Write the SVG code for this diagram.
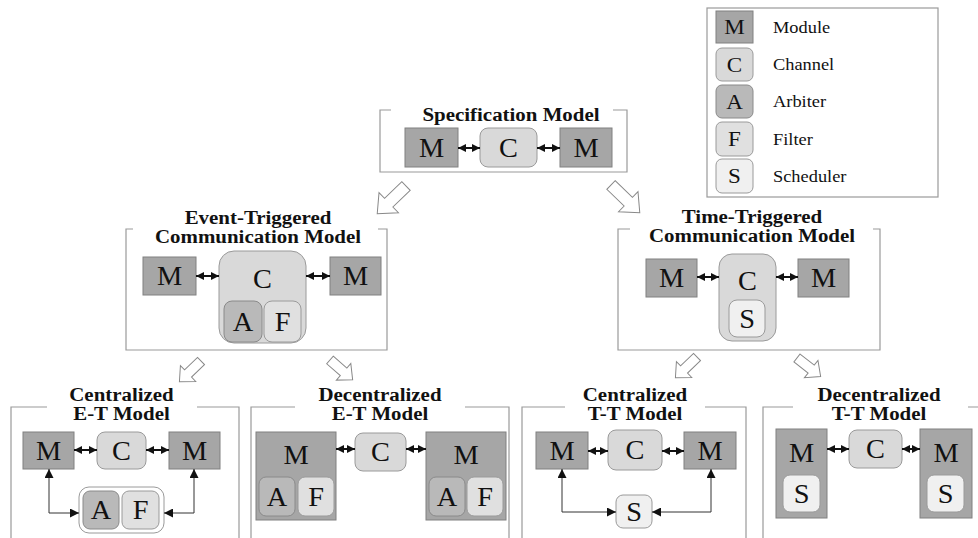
<svg xmlns="http://www.w3.org/2000/svg" width="978" height="538" viewBox="0 0 978 538">
<style>
text{font-family:"Liberation Serif","Times New Roman",serif;fill:#111}
.t{font-size:19px;font-weight:bold;text-anchor:middle}
.L{font-size:27px;text-anchor:middle}
.lg{font-size:22px;text-anchor:middle}
.lb{font-size:17.5px}
.frame{fill:none;stroke:#9a9a9a;stroke-width:1.2}
.m{fill:#a6a6a6;stroke:#808080;stroke-width:1}
.c{fill:#d9d9d9;stroke:#9a9a9a;stroke-width:1}
.a{fill:#b9b9b9;stroke:#8a8a8a;stroke-width:1}
.f{fill:#e0e0e0;stroke:#9a9a9a;stroke-width:1}
.s{fill:#f0f0f0;stroke:#9a9a9a;stroke-width:1}
.w{fill:#fff;stroke:#9a9a9a;stroke-width:1}
.dbl{stroke:#111;stroke-width:2;fill:none;marker-start:url(#ah);marker-end:url(#ah)}
.elb{stroke:#333;stroke-width:1;fill:none;marker-start:url(#ah2);marker-end:url(#ah2)}
.ha{fill:#fff;stroke:#888;stroke-width:1}
</style>
<defs>
<marker id="ah" viewBox="0 0 10 10" refX="10" refY="5" markerWidth="8" markerHeight="9" markerUnits="userSpaceOnUse" orient="auto-start-reverse"><path d="M0,0 L10,5 L0,10 z" fill="#111"/></marker>
<marker id="ah2" viewBox="0 0 10 10" refX="10" refY="5" markerWidth="9" markerHeight="9" markerUnits="userSpaceOnUse" orient="auto-start-reverse"><path d="M0,0 L10,5 L0,10 z" fill="#111"/></marker>
<path id="bigArrow" d="M0,-6 L24,-6 L24,-14 L40,0 L24,14 L24,6 L0,6 Z"/>
<path id="smallArrow" d="M0,-5 L18,-5 L18,-11 L30,0 L18,11 L18,5 L0,5 Z"/>
</defs>
<rect width="978" height="538" fill="#fff"/>

<g id="legend">
<rect x="707" y="8" width="231" height="189" fill="#fff" stroke="#9a9a9a" stroke-width="1.2"/>
<rect class="m" x="716" y="11" width="37" height="32"/>
<rect class="c" x="716" y="48" width="37" height="33" rx="6"/>
<rect class="a" x="716" y="85" width="37" height="33" rx="6"/>
<rect class="f" x="716" y="122" width="37" height="34" rx="6"/>
<rect class="s" x="716" y="159" width="37" height="34" rx="6"/>
<text class="lg" transform="translate(734.5 34.3) scale(1.05 1)">M</text>
<text class="lg" transform="translate(734.5 71.8) scale(1.05 1)">C</text>
<text class="lg" transform="translate(734.5 108.8) scale(1.05 1)">A</text>
<text class="lg" transform="translate(734.5 146.3) scale(1.05 1)">F</text>
<text class="lg" transform="translate(734.5 183.3) scale(1.05 1)">S</text>
<text class="lb" transform="translate(773 32.8) scale(1.05 1)">Module</text>
<text class="lb" transform="translate(773 70.3) scale(1.05 1)">Channel</text>
<text class="lb" transform="translate(773 107.3) scale(1.05 1)">Arbiter</text>
<text class="lb" transform="translate(773 144.8) scale(1.05 1)">Filter</text>
<text class="lb" transform="translate(773 181.8) scale(1.05 1)">Scheduler</text>
</g>

<g id="spec-model">
<path class="frame" d="M391,110 H380 V172 H627 V110 H613"/>
<text class="t" transform="translate(511 121) scale(1.1 1)">Specification Model</text>
<rect class="m" x="405" y="128" width="53" height="39"/>
<rect class="c" x="480" y="128" width="57" height="39" rx="8"/>
<rect class="m" x="560" y="128" width="52" height="39"/>
<text class="L" transform="translate(431.5 156.5) scale(1.05 1)">M</text>
<text class="L" transform="translate(508.5 156.5) scale(1.05 1)">C</text>
<text class="L" transform="translate(586 156.5) scale(1.05 1)">M</text>
</g>

<g id="et-model">
<path class="frame" d="M133,229 H126 V350 H387 V229 H378"/>
<text class="t" transform="translate(258 224) scale(1.1 1)">Event-Triggered</text>
<text class="t" transform="translate(258 243) scale(1.1 1)">Communication Model</text>
<rect class="m" x="143" y="257" width="53" height="38"/>
<rect class="c" x="219" y="251" width="87" height="92" rx="15"/>
<rect class="a" x="224" y="301" width="38" height="41" rx="8"/>
<rect class="f" x="264" y="301" width="37" height="41" rx="8"/>
<rect class="m" x="330" y="257" width="51" height="38"/>
<text class="L" transform="translate(169.5 285) scale(1.05 1)">M</text>
<text class="L" transform="translate(262.5 288) scale(1.05 1)">C</text>
<text class="L" transform="translate(243 330.5) scale(1.05 1)">A</text>
<text class="L" transform="translate(282.5 330.5) scale(1.05 1)">F</text>
<text class="L" transform="translate(355.5 285) scale(1.05 1)">M</text>
</g>

<g id="tt-model">
<path class="frame" d="M630,229 H618 V350 H880 V229 H873"/>
<text class="t" transform="translate(752 223) scale(1.1 1)">Time-Triggered</text>
<text class="t" transform="translate(752 242) scale(1.1 1)">Communication Model</text>
<rect class="m" x="646" y="259" width="51" height="38"/>
<rect class="c" x="719" y="254" width="57" height="87" rx="13"/>
<rect class="s" x="729" y="300" width="36" height="37" rx="8"/>
<rect class="m" x="798" y="259" width="51" height="38"/>
<text class="L" transform="translate(671.5 287) scale(1.05 1)">M</text>
<text class="L" transform="translate(747.5 290) scale(1.05 1)">C</text>
<text class="L" transform="translate(747 327.5) scale(1.05 1)">S</text>
<text class="L" transform="translate(823.5 287) scale(1.05 1)">M</text>
</g>

<g id="centralized-et">
<path class="frame" d="M47,407 H11 V540 M197,407 H239 V540"/>
<text class="t" transform="translate(121.5 401) scale(1.1 1)">Centralized</text>
<text class="t" transform="translate(121.5 420) scale(1.1 1)">E-T Model</text>
<rect class="m" x="23" y="432" width="51" height="37"/>
<rect class="c" x="97" y="432" width="49" height="37" rx="8"/>
<rect class="m" x="169" y="432" width="51" height="37"/>
<rect class="w" x="79" y="487" width="85" height="46" rx="10"/>
<rect class="a" x="83" y="491" width="36" height="38" rx="7"/>
<rect class="f" x="122" y="491" width="37" height="38" rx="7"/>
<text class="L" transform="translate(48.5 459.5) scale(1.05 1)">M</text>
<text class="L" transform="translate(121.5 459.5) scale(1.05 1)">C</text>
<text class="L" transform="translate(194.5 459.5) scale(1.05 1)">M</text>
<text class="L" transform="translate(101 519) scale(1.05 1)">A</text>
<text class="L" transform="translate(140.5 519) scale(1.05 1)">F</text>
</g>

<g id="decentralized-et">
<path class="frame" d="M295,407 H251 V540 M465,407 H509 V540"/>
<text class="t" transform="translate(380 401) scale(1.1 1)">Decentralized</text>
<text class="t" transform="translate(380 420) scale(1.1 1)">E-T Model</text>
<rect class="m" x="256" y="432" width="80" height="88"/>
<rect class="a" x="259" y="477" width="36" height="39" rx="7"/>
<rect class="f" x="298" y="477" width="36" height="39" rx="7"/>
<rect class="c" x="355" y="433" width="51" height="38" rx="8"/>
<rect class="m" x="426" y="432" width="80" height="88"/>
<rect class="a" x="429" y="477" width="36" height="39" rx="7"/>
<rect class="f" x="467" y="477" width="36" height="39" rx="7"/>
<text class="L" transform="translate(296 464) scale(1.05 1)">M</text>
<text class="L" transform="translate(277 505.5) scale(1.05 1)">A</text>
<text class="L" transform="translate(316 505.5) scale(1.05 1)">F</text>
<text class="L" transform="translate(380.5 461) scale(1.05 1)">C</text>
<text class="L" transform="translate(466 464) scale(1.05 1)">M</text>
<text class="L" transform="translate(447 505.5) scale(1.05 1)">A</text>
<text class="L" transform="translate(485 505.5) scale(1.05 1)">F</text>
</g>

<g id="centralized-tt">
<path class="frame" d="M565,407 H522 V540 M705,407 H746 V540"/>
<text class="t" transform="translate(635 401) scale(1.1 1)">Centralized</text>
<text class="t" transform="translate(635 420) scale(1.1 1)">T-T Model</text>
<rect class="m" x="536" y="432" width="52" height="37"/>
<rect class="c" x="608" y="430" width="54" height="40" rx="8"/>
<rect class="m" x="684" y="432" width="52" height="37"/>
<rect class="s" x="616" y="495" width="36" height="33" rx="7"/>
<text class="L" transform="translate(562 459.5) scale(1.05 1)">M</text>
<text class="L" transform="translate(635 459) scale(1.05 1)">C</text>
<text class="L" transform="translate(710 459.5) scale(1.05 1)">M</text>
<text class="L" transform="translate(634 520.5) scale(1.05 1)">S</text>
</g>

<g id="decentralized-tt">
<path class="frame" d="M793,407 H763 V540 M968,407 H980"/>
<text class="t" transform="translate(879 401) scale(1.1 1)">Decentralized</text>
<text class="t" transform="translate(879 420) scale(1.1 1)">T-T Model</text>
<rect class="m" x="776" y="429" width="51" height="89"/>
<rect class="s" x="783" y="475" width="37" height="37" rx="7"/>
<rect class="c" x="849" y="430" width="53" height="38" rx="8"/>
<rect class="m" x="920" y="429" width="52" height="89"/>
<rect class="s" x="927" y="475" width="37" height="37" rx="7"/>
<text class="L" transform="translate(801.5 462) scale(1.05 1)">M</text>
<text class="L" transform="translate(801.5 502.5) scale(1.05 1)">S</text>
<text class="L" transform="translate(875.5 458) scale(1.05 1)">C</text>
<text class="L" transform="translate(946 462) scale(1.05 1)">M</text>
<text class="L" transform="translate(945.5 502.5) scale(1.05 1)">S</text>
</g>

<g id="connectors">
<line class="dbl" x1="458" y1="148" x2="480" y2="148"/>
<line class="dbl" x1="537" y1="148" x2="560" y2="148"/>
<line class="dbl" x1="196" y1="276" x2="219" y2="276"/>
<line class="dbl" x1="306" y1="276" x2="330" y2="276"/>
<line class="dbl" x1="697" y1="277" x2="719" y2="277"/>
<line class="dbl" x1="776" y1="277" x2="798" y2="277"/>
<line class="dbl" x1="74" y1="450" x2="97" y2="450"/>
<line class="dbl" x1="146" y1="450" x2="169" y2="450"/>
<path class="elb" d="M49,469 V513 H79"/>
<path class="elb" d="M194,469 V513 H164"/>
<line class="dbl" x1="336" y1="449" x2="355" y2="449"/>
<line class="dbl" x1="406" y1="449" x2="426" y2="449"/>
<line class="dbl" x1="588" y1="451" x2="608" y2="451"/>
<line class="dbl" x1="662" y1="451" x2="684" y2="451"/>
<path class="elb" d="M562,469 V512 H616"/>
<path class="elb" d="M711,469 V512 H652"/>
<line class="dbl" x1="827" y1="449" x2="849" y2="449"/>
<line class="dbl" x1="902" y1="449" x2="920" y2="449"/>
<use href="#bigArrow" class="ha" transform="translate(406 186) rotate(136)"/>
<use href="#bigArrow" class="ha" transform="translate(611 185) rotate(44)"/>
<use href="#smallArrow" class="ha" transform="translate(201 361) rotate(136)"/>
<use href="#smallArrow" class="ha" transform="translate(330 360) rotate(41)"/>
<use href="#smallArrow" class="ha" transform="translate(697 357) rotate(136)"/>
<use href="#smallArrow" class="ha" transform="translate(797 358) rotate(38)"/>
</g>
</svg>
